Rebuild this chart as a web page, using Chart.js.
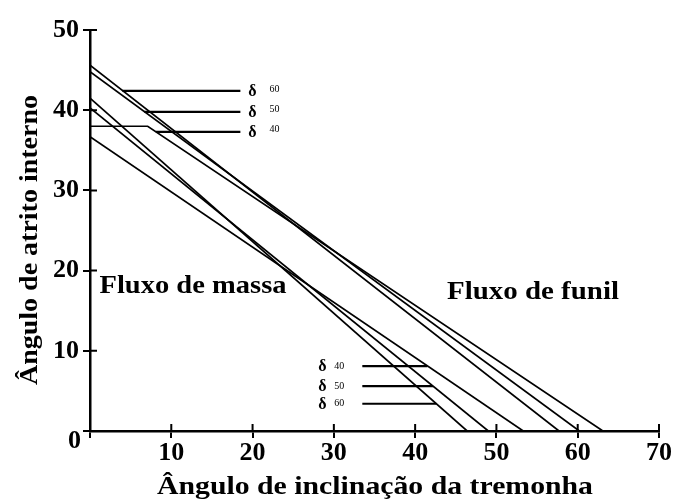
<!DOCTYPE html>
<html>
<head>
<meta charset="utf-8">
<script src="https://cdn.jsdelivr.net/npm/chart.js@4/dist/chart.umd.min.js"></script>
<style>
  html, body { margin: 0; padding: 0; background: #fff; }
</style>
</head>
<body>
<canvas id="grafico" width="677" height="501"></canvas>
<script>
'use strict';
// δ de cada curva (mesma ordem nas duas famílias)
const deltas = ['60', '50', '40'];

// curvas de fronteira do lado do fluxo de funil
const funilX = [[0, 57.7], [0, 60.2], [0, 7.1, 63.1]];
const funilY = [[45.6, 0], [44.8, 0], [38.0, 38.0, 0]];

// curvas de fronteira do lado do fluxo de massa
const massaX = [[0, 46.4], [0, 49.0], [0, 53.3]];
const massaY = [[41.5, 0], [40.3, 0], [36.7, 0]];

// linhas de chamada das legendas δ
const topoLinhaY = [42.4, 39.8, 37.3];
const topoLinhaX0 = [4.0, 6.7, 8.1];
const topoLinhaX1 = 18.5;
const baseLinhaY = [3.4, 5.6, 8.1];
const baseLinhaX0 = 33.5;
const baseLinhaX1 = [42.6, 42.2, 41.5];

const serif = '"Liberation Serif", "DejaVu Serif", serif';
const fonteEixo = { family: serif, weight: 'bold', size: 26 };

function pontos(xs, ys) {
    let pts = [];
    for (let i = 0; i < xs.length; i++) {
        pts.push({ x: xs[i], y: ys[i] });
    }
    return pts;
}

let datasets = [];
for (let i = 0; i < deltas.length; i++) {
    datasets.push({ data: pontos(funilX[i], funilY[i]), borderWidth: 1.7 });
    datasets.push({ data: pontos(massaX[i], massaY[i]), borderWidth: 1.7 });
    datasets.push({
        data: pontos([topoLinhaX0[i], topoLinhaX1], [topoLinhaY[i], topoLinhaY[i]]),
        borderWidth: 2.2
    });
    datasets.push({
        data: pontos([baseLinhaX0, baseLinhaX1[i]], [baseLinhaY[i], baseLinhaY[i]]),
        borderWidth: 2.2
    });
}
datasets.forEach(ds => {
    ds.showLine = true;
    ds.borderColor = '#000';
    ds.pointRadius = 0;
    ds.fill = false;
});

// texto em negrito esticado até uma largura dada
function textoLargo(ctx, texto, cx, base, tam, largura, rot) {
    ctx.save();
    ctx.font = `bold ${tam}px ${serif}`;
    const w = ctx.measureText(texto).width;
    ctx.translate(cx, base);
    if (rot) ctx.rotate(rot);
    ctx.scale(largura / w, 1);
    ctx.textAlign = 'center';
    ctx.textBaseline = 'alphabetic';
    ctx.fillStyle = '#000';
    ctx.fillText(texto, 0, 0);
    ctx.restore();
}

const marcas = {
    id: 'marcas',
    afterDraw(chart) {
        const ctx = chart.ctx;
        const sx = chart.scales.x;
        const sy = chart.scales.y;
        const area = chart.chartArea;

        // marcas de escala para dentro da área
        ctx.save();
        ctx.strokeStyle = '#000';
        ctx.lineWidth = 2;
        ctx.beginPath();
        sy.ticks.forEach(t => {
            if (t.value === 0) return;
            const py = sy.getPixelForValue(t.value);
            ctx.moveTo(area.left, py);
            ctx.lineTo(area.left + 7, py);
        });
        sx.ticks.forEach(t => {
            if (t.value === 0) return;
            const px = sx.getPixelForValue(t.value);
            ctx.moveTo(px, area.bottom);
            ctx.lineTo(px, area.bottom - 7);
        });
        ctx.stroke();

        // origem
        ctx.font = `bold 26px ${serif}`;
        ctx.fillStyle = '#000';
        ctx.textAlign = 'right';
        ctx.textBaseline = 'middle';
        ctx.fillText('0', area.left - 9, area.bottom + 10);

        // legendas δ
        for (let i = 0; i < deltas.length; i++) {
            let py = sy.getPixelForValue(topoLinhaY[i]);
            let px = sx.getPixelForValue(topoLinhaX1);
            ctx.font = `bold 16px ${serif}`;
            ctx.textAlign = 'center';
            ctx.fillText('δ', px + 12, py + 1);
            ctx.font = `10px ${serif}`;
            ctx.textAlign = 'left';
            ctx.fillText(deltas[i], px + 29, py - 2);

            py = sy.getPixelForValue(baseLinhaY[i]);
            px = sx.getPixelForValue(baseLinhaX0);
            ctx.font = `bold 16px ${serif}`;
            ctx.textAlign = 'center';
            ctx.fillText('δ', px - 40, py + 1);
            ctx.font = `10px ${serif}`;
            ctx.textAlign = 'left';
            ctx.fillText(deltas[i], px - 28, py);
        }
        ctx.restore();

        // regiões e títulos dos eixos
        textoLargo(ctx, 'Fluxo de massa', 193, 293, 25, 187);
        textoLargo(ctx, 'Fluxo de funil', 533, 299, 25, 172);
        textoLargo(ctx, 'Ângulo de inclinação da tremonha', 375, 494, 25, 436);
        ctx.save();
        ctx.translate(37, 240);
        textoLargo(ctx, 'Ângulo de atrito interno', 0, 0, 25, 290, -Math.PI / 2);
        ctx.restore();
    }
};

const eixoGrade = {
    drawOnChartArea: false,
    drawTicks: true,
    tickLength: 7,
    color: '#000',
    lineWidth: 2
};

new Chart(document.getElementById('grafico'), {
    type: 'scatter',
    data: { datasets: datasets },
    options: {
        responsive: false,
        animation: false,
        layout: { padding: { top: 30, right: 18, left: 0, bottom: 0 } },
        plugins: {
            legend: { display: false },
            tooltip: { enabled: false }
        },
        scales: {
            x: {
                type: 'linear',
                min: 0,
                max: 70,
                ticks: {
                    stepSize: 10,
                    color: '#000',
                    font: fonteEixo,
                    padding: 0,
                    callback: v => (v === 0 ? '' : v)
                },
                grid: eixoGrade,
                border: { display: true, color: '#000', width: 2.5 },
                afterFit: s => { s.height = 70; }
            },
            y: {
                type: 'linear',
                min: 0,
                max: 50,
                ticks: {
                    stepSize: 10,
                    color: '#000',
                    font: fonteEixo,
                    padding: 4,
                    callback: v => (v === 0 ? '' : v)
                },
                grid: eixoGrade,
                border: { display: true, color: '#000', width: 2.5 },
                afterFit: s => { s.width = 90; }
            }
        }
    },
    plugins: [marcas]
});
</script>
</body>
</html>
